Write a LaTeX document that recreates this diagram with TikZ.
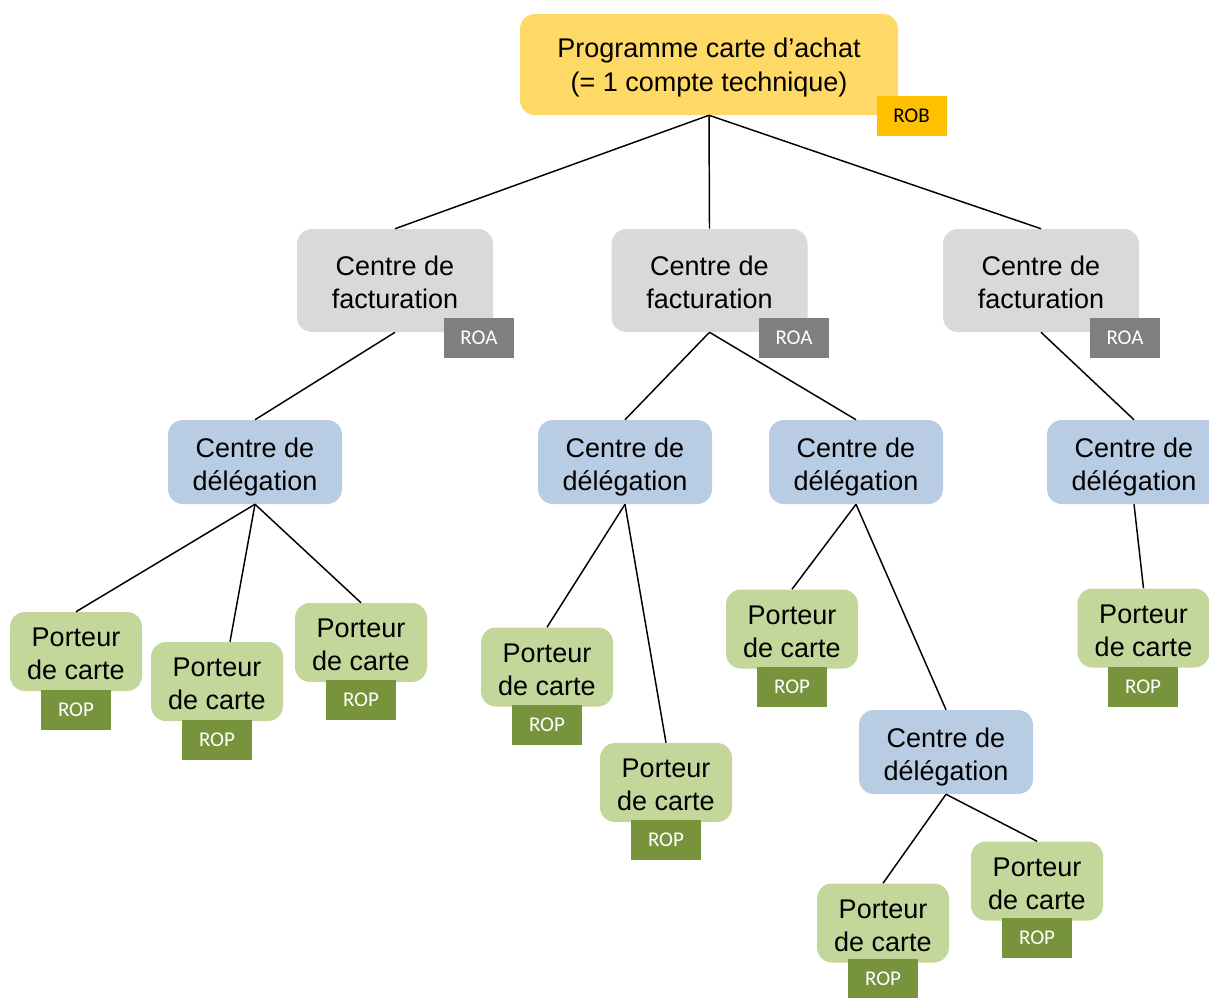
\documentclass[tikz,border=0pt]{standalone}
\usepackage{fontspec}
\setmainfont{Liberation Sans}
\newfontfamily\tagfont{Carlito}
\definecolor{progfill}{HTML}{FFD966}
\definecolor{robfill}{HTML}{FFC000}
\definecolor{cffill}{HTML}{D9D9D9}
\definecolor{roafill}{HTML}{7F7F7F}
\definecolor{cdfill}{HTML}{B8CCE4}
\definecolor{pcfill}{HTML}{C4D79B}
\definecolor{ropfill}{HTML}{77933C}
\tikzset{
  box/.style={rounded corners=11.25pt, inner sep=0pt, align=center,
    font=\fontsize{20.25pt}{24.75pt}\selectfont, text=black,
    text height=47pt, text depth=4.5pt},
  progbox/.style={box, fill=progfill, minimum width=283.5pt, minimum height=75.75pt,
    font=\fontsize{20.25pt}{25.5pt}\selectfont, text height=45pt},
  cfbox/.style={box, fill=cffill, minimum width=147pt, minimum height=77.25pt},
  cdbox/.style={box, fill=cdfill, minimum width=130.5pt, minimum height=63pt},
  pcbox/.style={box, fill=pcfill, minimum width=99pt, minimum height=59.25pt},
  tagbox/.style={inner sep=0pt, minimum width=52.5pt, minimum height=30pt, text=white,
    font=\tagfont\fontsize{15.75pt}{18pt}\selectfont},
  robtag/.style={tagbox, fill=robfill, text=black},
  roatag/.style={tagbox, fill=roafill},
  roptag/.style={tagbox, fill=ropfill},
  link/.style={draw=black, line width=1.1pt}
}
\begin{document}
\begin{tikzpicture}[x=0.75pt,y=-0.75pt]
\clip (0,0) rectangle (1209,997);
\fill[white] (0,0) rectangle (1209,997);
% main nodes
\node[progbox] (prog) at (709,64.5) {Programme carte d’achat\\(= 1 compte technique)};
\node[cfbox] (cf1) at (395,280.5) {Centre de\\facturation};
\node[cfbox] (cf2) at (709.5,280.5) {Centre de\\facturation};
\node[cfbox] (cf3) at (1041,280.5) {Centre de\\facturation};
\node[cdbox] (cd1) at (255,462) {Centre de\\délégation};
\node[cdbox] (cd2) at (625,462) {Centre de\\délégation};
\node[cdbox] (cd3) at (856,462) {Centre de\\délégation};
\node[cdbox] (cd4) at (1134,462) {Centre de\\délégation};
\node[cdbox] (cd5) at (946,752) {Centre de\\délégation};
\node[pcbox] (p1) at (76,651.5) {Porteur\\de carte};
\node[pcbox] (p2) at (217,681.5) {Porteur\\de carte};
\node[pcbox] (p3) at (361,642.5) {Porteur\\de carte};
\node[pcbox] (p4) at (547,667) {Porteur\\de carte};
\node[pcbox] (p5) at (666,782.5) {Porteur\\de carte};
\node[pcbox] (p6) at (792,629) {Porteur\\de carte};
\node[pcbox] (p7) at (1143.5,628) {Porteur\\de carte};
\node[pcbox] (p8) at (883,923) {Porteur\\de carte};
\node[pcbox] (p9) at (1037,881) {Porteur\\de carte};
% tags
\node[robtag] (rob) at (911.5,115.5) {ROB};
\node[roatag] (roa1) at (479,338) {ROA};
\node[roatag] (roa2) at (794,338) {ROA};
\node[roatag] (roa3) at (1125,338) {ROA};
\node[roptag] (rop1) at (76,710) {ROP};
\node[roptag] (rop2) at (217,740) {ROP};
\node[roptag] (rop3) at (361,700) {ROP};
\node[roptag] (rop4) at (547,725) {ROP};
\node[roptag] (rop5) at (666,840) {ROP};
\node[roptag] (rop6) at (792,687) {ROP};
\node[roptag] (rop7) at (1143,686.5) {ROP};
\node[roptag] (rop8) at (883,979) {ROP};
\node[roptag] (rop9) at (1037,938) {ROP};
% connectors
\draw[link] (prog.south) -- (cf1.north);
\draw[link] (prog.south) -- (cf2.north);
\draw[link] (prog.south) -- (cf3.north);
\draw[link] (cf1.south) -- (cd1.north);
\draw[link] (cf2.south) -- (cd2.north);
\draw[link] (cf2.south) -- (cd3.north);
\draw[link] (cf3.south) -- (cd4.north);
\draw[link] (cd1.south) -- (p1.north);
\draw[link] (cd1.south) -- ([xshift=9.75pt]p2.north);
\draw[link] (cd1.south) -- (p3.north);
\draw[link] (cd2.south) -- (p4.north);
\draw[link] (cd2.south) -- (p5.north);
\draw[link] (cd3.south) -- (p6.north);
\draw[link] (cd3.south) -- (cd5.north);
\draw[link] (cd4.south) -- (p7.north);
\draw[link] (cd5.south) -- (p8.north);
\draw[link] (cd5.south) -- (p9.north);
\end{tikzpicture}
\end{document}
